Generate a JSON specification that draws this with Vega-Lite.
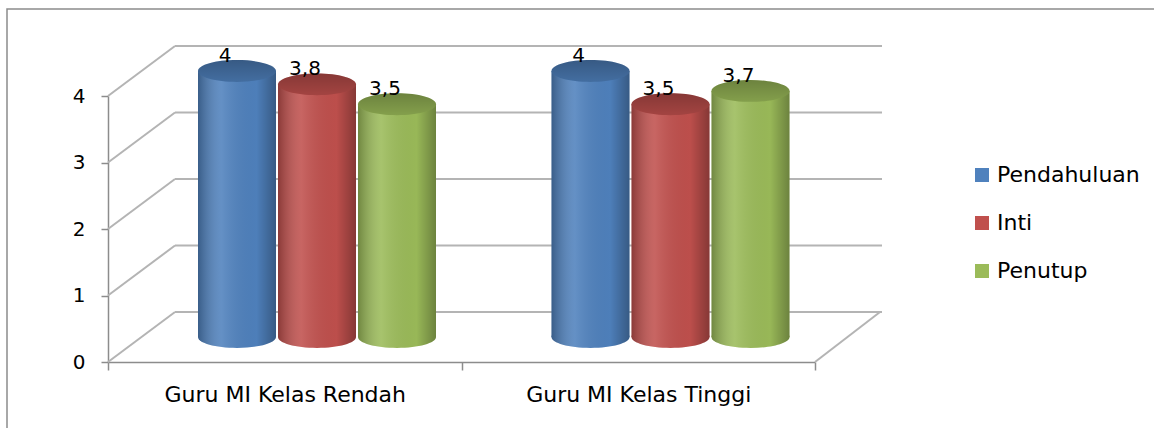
{
  "$schema": "https://vega.github.io/schema/vega-lite/v6.json",
  "autosize": "none",
  "padding": {"left": 7, "top": 9, "right": 0, "bottom": 0},
  "width": 1160,
  "height": 425,
  "background": "#ffffff",
  "config": {
    "view": {"stroke": "#8c8c8c", "strokeWidth": 1.5},
    "font": "DejaVu Sans",
    "locale": {"number": {"decimal": ",", "thousands": ".", "grouping": [3], "currency": ["", ""]}}
  },
  "datasets": {
    "scores": [
      {"group": "Guru MI Kelas Rendah", "series": "Pendahuluan", "value": 4},
      {"group": "Guru MI Kelas Rendah", "series": "Inti", "value": 3.8},
      {"group": "Guru MI Kelas Rendah", "series": "Penutup", "value": 3.5},
      {"group": "Guru MI Kelas Tinggi", "series": "Pendahuluan", "value": 4},
      {"group": "Guru MI Kelas Tinggi", "series": "Inti", "value": 3.5},
      {"group": "Guru MI Kelas Tinggi", "series": "Penutup", "value": 3.7}
    ],
    "ticks": [{"v": 0}, {"v": 1}, {"v": 2}, {"v": 3}, {"v": 4}],
    "floor": [{"v": 0}]
  },
  "layer": [
    {
      "data": {"name": "ticks"},
      "mark": {"type": "rule", "color": "#b4b4b4", "strokeWidth": 2, "x2Offset": 67, "y2Offset": -50},
      "encoding": {
        "x": {"datum": "Guru MI Kelas Rendah", "type": "nominal", "bandPosition": 0},
        "x2": {"datum": "Guru MI Kelas Rendah", "bandPosition": 0},
        "y": {"field": "v", "type": "quantitative"},
        "y2": {"field": "v"}
      }
    },
    {
      "data": {"name": "ticks"},
      "mark": {"type": "rule", "color": "#b4b4b4", "strokeWidth": 2, "xOffset": 67, "x2Offset": 67, "yOffset": -50},
      "encoding": {
        "x": {"datum": "Guru MI Kelas Rendah", "type": "nominal", "bandPosition": 0},
        "x2": {"datum": "Guru MI Kelas Tinggi", "bandPosition": 1},
        "y": {"field": "v", "type": "quantitative"}
      }
    },
    {
      "data": {"name": "floor"},
      "mark": {"type": "rule", "color": "#b4b4b4", "strokeWidth": 2, "x2Offset": 65, "y2Offset": -50},
      "encoding": {
        "x": {"datum": "Guru MI Kelas Tinggi", "type": "nominal", "bandPosition": 1},
        "x2": {"datum": "Guru MI Kelas Tinggi", "bandPosition": 1},
        "y": {"field": "v", "type": "quantitative"},
        "y2": {"field": "v"}
      }
    },
    {
      "data": {"name": "scores"},
      "mark": {"type": "point", "filled": true, "opacity": 1, "strokeWidth": 0, "size": 6084, "yOffset": -25,
        "shape": "M -1 0 C -1 0.1546 -0.5523 0.28 0 0.28 C 0.5523 0.28 1 0.1546 1 0 C 1 -0.1546 0.5523 -0.28 0 -0.28 C -0.5523 -0.28 -1 -0.1546 -1 0 Z"},
      "encoding": {
        "x": {"field": "group", "type": "nominal"},
        "xOffset": {"field": "series", "type": "nominal"},
        "y": {"datum": 0, "type": "quantitative"},
        "color": {"field": "series", "type": "nominal"}
      }
    },
    {
      "data": {"name": "scores"},
      "mark": {"type": "point", "filled": true, "opacity": 1, "strokeWidth": 0, "size": 6084, "yOffset": -25,
        "shape": "M -1 0 C -1 0.1546 -0.5523 0.28 0 0.28 C 0.5523 0.28 1 0.1546 1 0 C 1 -0.1546 0.5523 -0.28 0 -0.28 C -0.5523 -0.28 -1 -0.1546 -1 0 Z",
        "fill": {"gradient": "linear", "x1": 0, "y1": 0, "x2": 1, "y2": 0, "stops": [
          {"offset": 0, "color": "rgba(0,0,0,0.28)"},
          {"offset": 0.3, "color": "rgba(255,255,255,0.12)"},
          {"offset": 0.75, "color": "rgba(0,0,0,0.02)"},
          {"offset": 1, "color": "rgba(0,0,0,0.3)"}]}},
      "encoding": {
        "x": {"field": "group", "type": "nominal"},
        "xOffset": {"field": "series", "type": "nominal"},
        "y": {"datum": 0, "type": "quantitative"}
      }
    },
    {
      "data": {"name": "scores"},
      "mark": {"type": "bar", "width": 78, "yOffset": -25, "y2Offset": -25},
      "encoding": {
        "x": {"field": "group", "type": "nominal",
          "scale": {"domain": ["Guru MI Kelas Rendah", "Guru MI Kelas Tinggi"], "range": [101, 808], "paddingInner": 0, "paddingOuter": 0},
          "axis": {"title": null, "orient": "bottom", "offset": -72, "tickBand": "extent", "bandPosition": 0.5, "labelAngle": 0,
            "labelAlign": "center", "labelLimit": 0,
            "domainColor": "#8c8c8c", "domainWidth": 1.5, "tickColor": "#8c8c8c", "tickWidth": 1.5, "tickSize": 8,
            "labelFontSize": 22, "labelColor": "#000000", "labelPadding": 24, "labelFont": "DejaVu Sans"}},
        "xOffset": {"field": "series", "type": "nominal",
          "scale": {"domain": ["Pendahuluan", "Inti", "Penutup"], "range": [89, 329], "paddingInner": 0, "paddingOuter": 0}},
        "y": {"field": "value", "type": "quantitative",
          "scale": {"domain": [0, 4], "range": [353, 87], "nice": false, "zero": true},
          "axis": {"title": null, "orient": "left", "offset": -101, "values": [0, 1, 2, 3, 4], "format": "d", "grid": false,
            "domainColor": "#8c8c8c", "domainWidth": 1.5, "tickColor": "#8c8c8c", "tickWidth": 1.5, "tickSize": 7,
            "labelFontSize": 20, "labelColor": "#000000", "labelPadding": 16, "labelFont": "DejaVu Sans"}},
        "y2": {"datum": 0},
        "color": {"field": "series", "type": "nominal",
          "scale": {"domain": ["Pendahuluan", "Inti", "Penutup"], "range": ["#4F81BD", "#C0504D", "#9BBB59"]},
          "legend": {"title": null, "orient": "none", "legendX": 964, "legendY": 155, "symbolType": "square", "symbolSize": 196,
            "symbolStrokeWidth": 0, "labelFontSize": 22, "labelColor": "#000000", "labelFont": "DejaVu Sans", "labelOffset": 4, "rowPadding": 26}}
      }
    },
    {
      "data": {"name": "scores"},
      "mark": {"type": "bar", "width": 78, "yOffset": -25, "y2Offset": -25,
        "fill": {"gradient": "linear", "x1": 0, "y1": 0, "x2": 1, "y2": 0, "stops": [
          {"offset": 0, "color": "rgba(0,0,0,0.28)"},
          {"offset": 0.3, "color": "rgba(255,255,255,0.12)"},
          {"offset": 0.75, "color": "rgba(0,0,0,0.02)"},
          {"offset": 1, "color": "rgba(0,0,0,0.3)"}]}},
      "encoding": {
        "x": {"field": "group", "type": "nominal"},
        "xOffset": {"field": "series", "type": "nominal"},
        "y": {"field": "value", "type": "quantitative"},
        "y2": {"datum": 0}
      }
    },
    {
      "data": {"name": "scores"},
      "mark": {"type": "point", "filled": true, "opacity": 1, "strokeWidth": 0, "size": 6084, "yOffset": -25,
        "shape": "M -1 0 C -1 0.1546 -0.5523 0.28 0 0.28 C 0.5523 0.28 1 0.1546 1 0 C 1 -0.1546 0.5523 -0.28 0 -0.28 C -0.5523 -0.28 -1 -0.1546 -1 0 Z"},
      "encoding": {
        "x": {"field": "group", "type": "nominal"},
        "xOffset": {"field": "series", "type": "nominal"},
        "y": {"field": "value", "type": "quantitative"},
        "color": {"field": "series", "type": "nominal"}
      }
    },
    {
      "data": {"name": "scores"},
      "mark": {"type": "point", "filled": true, "opacity": 1, "strokeWidth": 0, "size": 6084, "yOffset": -25,
        "shape": "M -1 0 C -1 0.1546 -0.5523 0.28 0 0.28 C 0.5523 0.28 1 0.1546 1 0 C 1 -0.1546 0.5523 -0.28 0 -0.28 C -0.5523 -0.28 -1 -0.1546 -1 0 Z",
        "fill": {"gradient": "linear", "x1": 0, "y1": 0, "x2": 0, "y2": 1, "stops": [
          {"offset": 0, "color": "rgba(0,0,0,0.3)"},
          {"offset": 1, "color": "rgba(0,0,0,0.15)"}]}},
      "encoding": {
        "x": {"field": "group", "type": "nominal"},
        "xOffset": {"field": "series", "type": "nominal"},
        "y": {"field": "value", "type": "quantitative"}
      }
    },
    {
      "data": {"name": "scores"},
      "mark": {"type": "text", "fontSize": 20, "font": "DejaVu Sans", "color": "#000000", "baseline": "alphabetic", "align": "center", "dx": -12, "yOffset": -34},
      "encoding": {
        "x": {"field": "group", "type": "nominal"},
        "xOffset": {"field": "series", "type": "nominal"},
        "y": {"field": "value", "type": "quantitative"},
        "text": {"field": "value", "type": "quantitative", "format": "~g"}
      }
    }
  ]
}
